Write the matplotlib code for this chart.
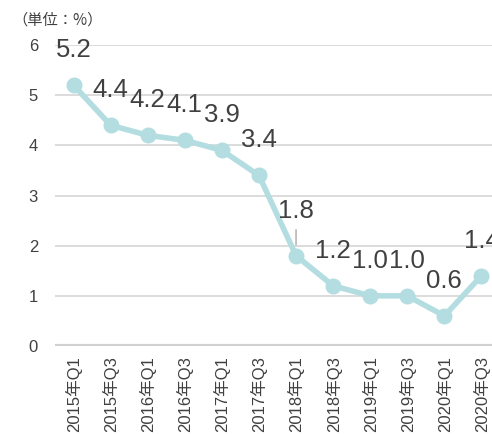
import matplotlib.pyplot as plt

plt.rcParams['font.family'] = ['Liberation Sans', 'Noto Sans CJK JP', 'DejaVu Sans']

# 四半期ごとの値
quarters = ['2015年Q1', '2015年Q3', '2016年Q1', '2016年Q3', '2017年Q1', '2017年Q3',
            '2018年Q1', '2018年Q3', '2019年Q1', '2019年Q3', '2020年Q1', '2020年Q3']
values = [5.2, 4.4, 4.2, 4.1, 3.9, 3.4, 1.8, 1.2, 1.0, 1.0, 0.6, 1.4]
y_ticks = [0, 1, 2, 3, 4, 5, 6]

line_color = '#b3dde1'
text_color = '#404040'
px = 0.72  # 1px を pt に

fig = plt.figure(figsize=(4.92, 4.34), dpi=100)
ax = fig.add_axes([55 / 492, 1 - 346 / 434, 445 / 492, 301 / 434])

x = list(range(len(values)))
ax.plot(x, values, color=line_color, lw=4, marker='o', ms=10.5,
        solid_joinstyle='round', clip_on=False, zorder=3)

# データラベル（2018年Q1 だけ引き出し線つき）
for i, v in enumerate(values):
    off = 45 if quarters[i] == '2018年Q1' else 35
    ax.annotate(f'{v:.1f}', (i, v), xytext=(0, off * px), textcoords='offset points',
                ha='center', va='center', fontsize=18.5, color=text_color,
                annotation_clip=False)
    if quarters[i] == '2018年Q1':
        ax.annotate('', (i, v), xytext=(0, 26 * px), textcoords='offset points',
                    arrowprops=dict(arrowstyle='-', color='#aaaaaa', lw=1,
                                    shrinkA=0, shrinkB=11 * px),
                    annotation_clip=False)

ax.set_xlim(-0.5, len(values) - 0.5)
ax.set_ylim(0, 6)
ax.set_yticks(y_ticks)
ax.set_xticks(x)
ax.set_xticklabels(quarters, rotation=90, fontsize=12, color=text_color,
                   va='top', family=['Liberation Sans', 'Noto Sans CJK JP'])
ax.tick_params(axis='y', length=0, labelsize=12, labelcolor=text_color, pad=17 * px)
ax.tick_params(axis='x', length=0, pad=10 * px)

for s in ax.spines.values():
    s.set_visible(False)
ax.grid(axis='y', color='#d9d9d9', lw=1.3)
ax.axhline(0, color='#d0d0d0', lw=3, zorder=1)
ax.set_axisbelow(True)

fig.text(12 / 492, 1 - 20 / 434, '（単位：%）', fontsize=11, color=text_color,
         va='center', ha='left', family=['Noto Sans CJK JP', 'DejaVu Sans'])

fig.savefig('out.png', dpi=100)
